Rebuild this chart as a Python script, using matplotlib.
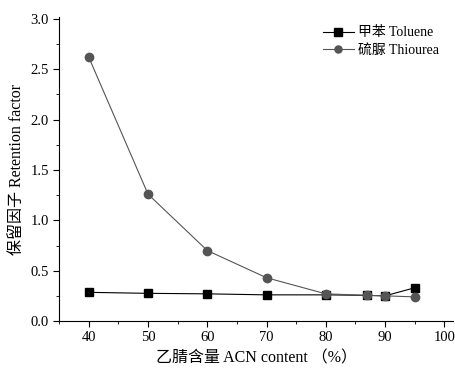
import matplotlib
matplotlib.use('Agg')
import matplotlib.pyplot as plt
from matplotlib.ticker import MultipleLocator

plt.rcParams['font.family'] = ['Liberation Serif', 'Noto Sans CJK SC']

# ACN content (%) and retention factors
acn = [40, 50, 60, 70, 80, 87, 90, 95]
toluene = [0.285, 0.275, 0.27, 0.26, 0.26, 0.255, 0.25, 0.33]
thiourea = [2.62, 1.26, 0.70, 0.43, 0.27, 0.255, 0.25, 0.24]

fig = plt.figure(figsize=(4.55, 3.69), dpi=100)
ax = fig.add_axes([0.130, 0.130, 0.866, 0.824])

ax.plot(acn, toluene, color='black', lw=0.8, marker='s', ms=6,
        label='甲苯 Toluene', zorder=2)
ax.plot(acn, thiourea, color='#555555', lw=0.8, marker='o', ms=6,
        label='硫脲 Thiourea', zorder=3)

ax.set_xlim(35, 101.5)
ax.set_ylim(0, 3.02)
ax.xaxis.set_major_locator(MultipleLocator(10))
ax.xaxis.set_minor_locator(MultipleLocator(5))
ax.yaxis.set_major_locator(MultipleLocator(0.5))
ax.yaxis.set_minor_locator(MultipleLocator(0.25))
ax.yaxis.set_major_formatter(plt.FuncFormatter(lambda v, p: f'{v:.1f}'))
ax.tick_params(which='both', direction='out', labelsize=10.5)
ax.tick_params(which='major', length=4)
ax.tick_params(which='minor', length=2.5)

for s in ['top', 'right']:
    ax.spines[s].set_visible(False)

ax.set_xlabel('乙腈含量 ACN content （%）', fontsize=11.5)
ax.set_ylabel('保留因子 Retention factor', fontsize=11.5)

ax.legend(loc='upper right', bbox_to_anchor=(0.995, 1.01), frameon=False,
          fontsize=10, handlelength=2.2, handletextpad=0.3, labelspacing=0.3,
          markerscale=0.85)

fig.savefig('out.png', dpi=100)
